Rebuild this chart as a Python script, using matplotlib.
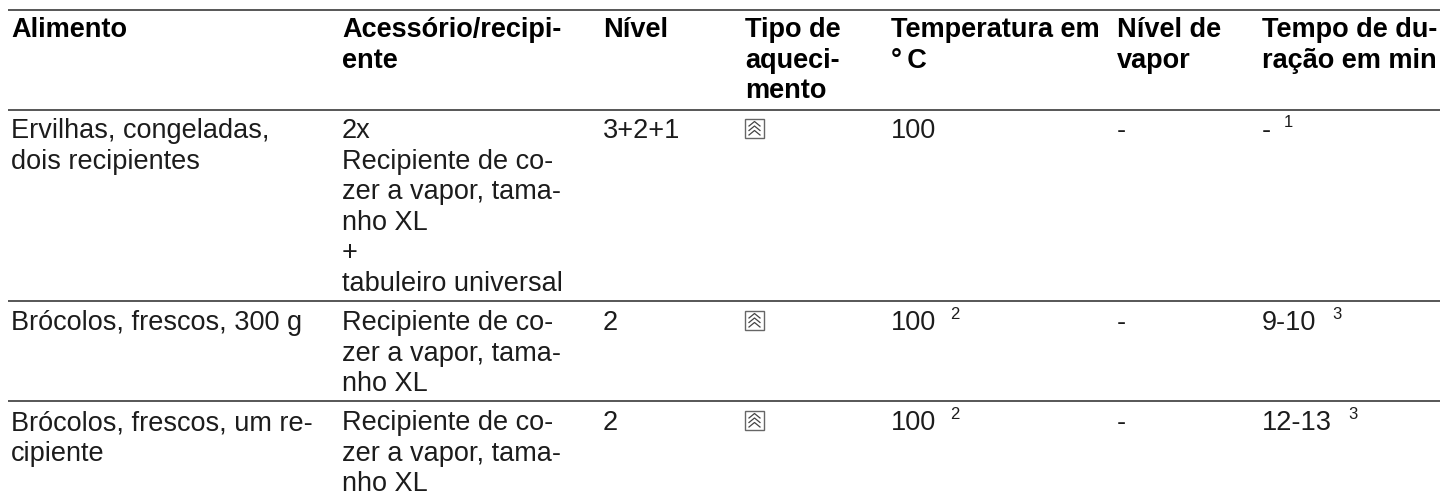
import matplotlib
matplotlib.use("Agg")
import matplotlib.pyplot as plt
from matplotlib.patches import Rectangle

plt.rcParams['font.family'] = ['Liberation Sans', 'DejaVu Sans']

# table content
header = [["Alimento"], ["Acessório/recipi-", "ente"], ["Nível"], ["Tipo de", "aqueci-", "mento"],
          ["Temperatura em", "°\u2009C"], ["Nível de", "vapor"], ["Tempo de du-", "ração em min"]]
alimento = [["Ervilhas, congeladas,", "dois recipientes"], ["Brócolos, frescos, 300 g"],
            ["Brócolos, frescos, um re-", "cipiente"]]
acessorio = [["2x", "Recipiente de co-", "zer a vapor, tama-", "nho XL", "+", "tabuleiro universal"],
             ["Recipiente de co-", "zer a vapor, tama-", "nho XL"],
             ["Recipiente de co-", "zer a vapor, tama-", "nho XL"]]
nivel = ["3+2+1", "2", "2"]
temperatura = ["100", "100", "100"]
temp_nota = ["", "2", "2"]
vapor = ["-", "-", "-"]
tempo = ["-", "9-10", "12-13"]
tempo_nota = ["1", "3", "3"]

# layout in pixels
col_x = [11, 342, 603, 745, 891, 1117, 1262]
col_gaps = [338, 597, 740, 884, 1114, 1258]
rules = [10, 109.5, 300.7, 400.7]
row_base = [138, 330, 430]
tempo_nota_x = [1284, 1332, 1348]
temp_nota_x = 950
pitch = 30.6

fig = plt.figure(figsize=(14.4, 4.96), dpi=100)
ax = fig.add_axes([0, 0, 1, 1])
ax.set_xlim(0, 1440)
ax.set_ylim(496, 0)
ax.axis('off')

fs = 19.5
fs_nota = 12
tc = '#1c1c1c'

edges = [8] + col_gaps + [1440]
for y in rules:
    for x0, x1 in zip(edges[:-1], edges[1:]):
        ax.plot([x0 + 0.2, x1 - 0.2], [y, y], color='#3a3a3a', lw=1.2, solid_capstyle='butt')


def put(x, y, lines, size=fs, weight='normal', color=tc):
    for n, s in enumerate(lines):
        ax.text(x, y + n * pitch, s, fontsize=size, fontweight=weight, color=color, va='baseline')


def icon(x, y):
    ax.add_patch(Rectangle((x, y), 19, 19, fill=False, ec='#666666', lw=1.0))
    for k in [7, 11.5, 16]:
        ax.plot([x + 4, x + 9.5, x + 15], [y + k, y + k - 4.5, y + k], color='#444444', lw=0.9)


for x, h in zip(col_x, header):
    put(x, 37, h, weight='bold', color='black')

for i, y in enumerate(row_base):
    put(col_x[0], y, alimento[i])
    put(col_x[1], y, acessorio[i])
    put(col_x[2], y, [nivel[i]])
    icon(col_x[3], y - 19)
    put(col_x[4], y, [temperatura[i]])
    if temp_nota[i]:
        put(temp_nota_x, y - 11, [temp_nota[i]], fs_nota)
    put(col_x[5], y, [vapor[i]])
    put(col_x[6], y, [tempo[i]])
    put(tempo_nota_x[i], y - 11, [tempo_nota[i]], fs_nota)

fig.savefig("out.png", dpi=100)
